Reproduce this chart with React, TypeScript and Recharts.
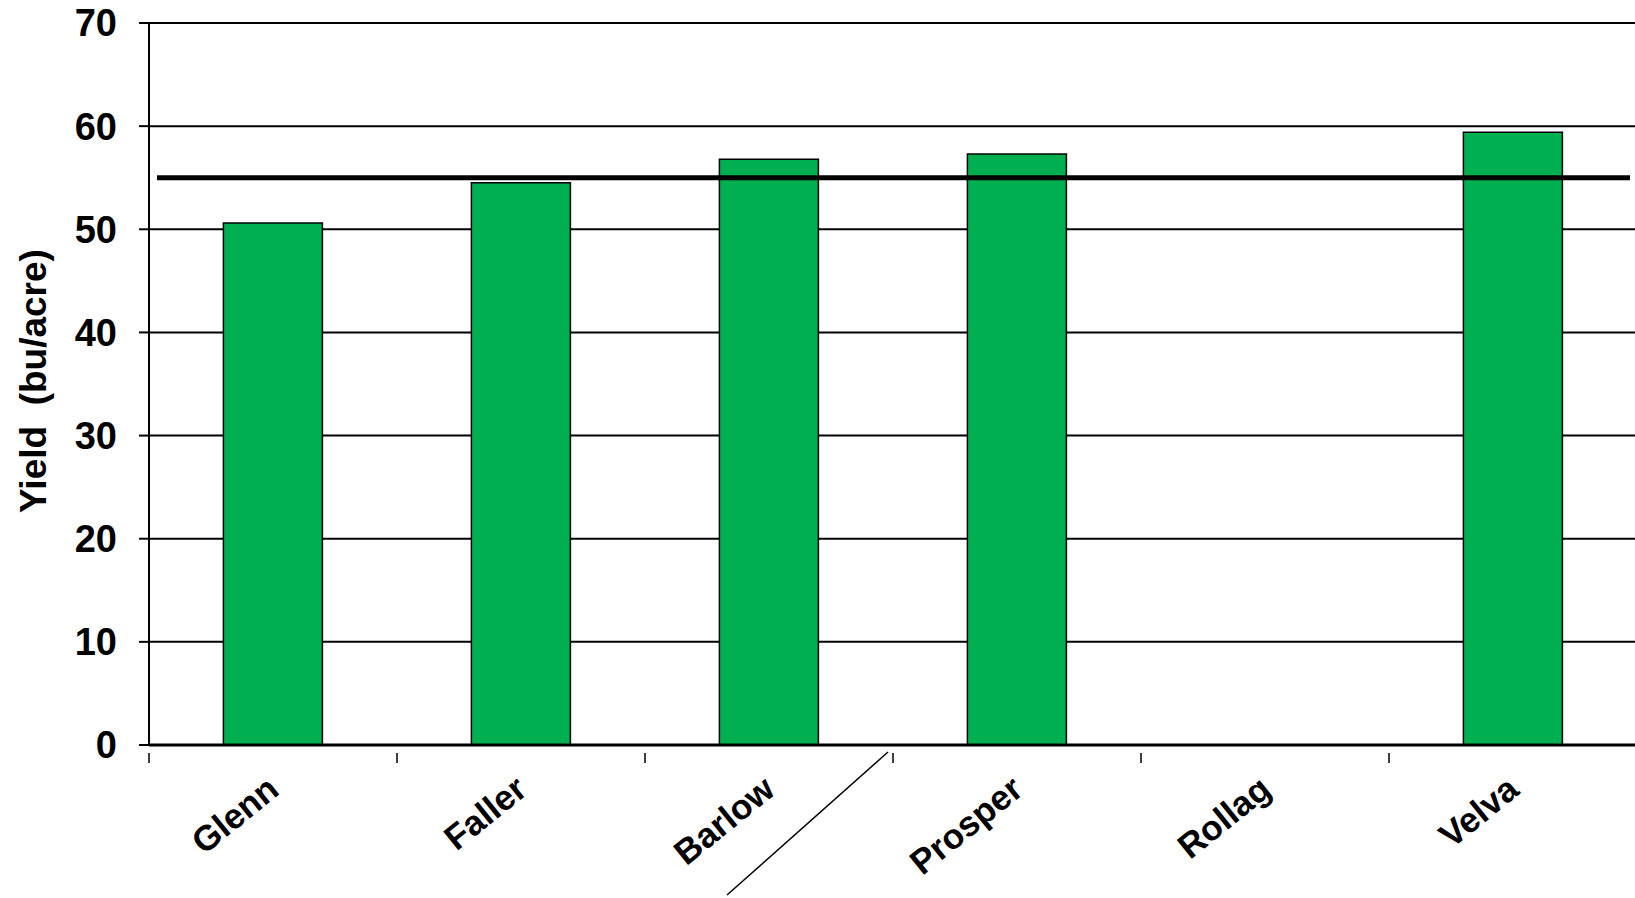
import React from "react"
import { BarChart, Bar, XAxis, YAxis, CartesianGrid, ReferenceLine } from "recharts"

// variety trial yields (bu/acre)
const categories = ["Glenn", "Faller", "Barlow", "Prosper", "Rollag", "Velva"]
const yields: (number | null)[] = [50.6, 54.5, 56.8, 57.3, null, 59.4]
const trialMean = 55
const yTicks = [0, 10, 20, 30, 40, 50, 60, 70]

const W = 1650
const H = 898
const MARGIN = { top: 23, right: 13, bottom: 0, left: 0 }
const Y_AXIS_W = 149
const FONT = "'Liberation Sans', Arial, Helvetica, sans-serif"

const data = categories.map((name, i) => ({ name, yield: yields[i] }))

const halfBand = (W - MARGIN.left - MARGIN.right - Y_AXIS_W) / categories.length / 2

function CategoryTick(props: any) {
  const { x, y, payload } = props
  const ax = x + 8
  const ay = y + 40
  return (
    <g>
      {/* excel-style ticks sit between categories */}
      <line x1={x - halfBand} y1={y} x2={x - halfBand} y2={y + 10} stroke="#000" strokeWidth={1.5} />
      <text
        x={ax}
        y={ay}
        textAnchor="end"
        transform={`rotate(-39, ${ax}, ${ay})`}
        fontFamily={FONT}
        fontWeight="bold"
        fontSize={35}
        fill="#000"
      >
        {payload.value}
      </text>
    </g>
  )
}

function MeanLine(props: any) {
  const { x1, x2, y1, y2 } = props
  return <line x1={x1 + 8} x2={x2 - 7} y1={y1} y2={y2} stroke="#000" strokeWidth={5} />
}

export default function App() {
  return (
    <div style={{ position: "absolute", left: 0, top: 0, width: 1635, height: 898, overflow: "hidden", background: "#fff" }}>
      <BarChart width={W} height={H} data={data} margin={MARGIN} barCategoryGap="30%">
        <CartesianGrid vertical={false} stroke="#000" strokeWidth={2} />
        <XAxis
          dataKey="name"
          height={153}
          axisLine={{ stroke: "#000", strokeWidth: 3 }}
          tickLine={false}
          tick={<CategoryTick />}
          interval={0}
        />
        <YAxis
          width={Y_AXIS_W}
          domain={[0, 70]}
          ticks={yTicks}
          interval={0}
          axisLine={{ stroke: "#000", strokeWidth: 2 }}
          tickLine={{ stroke: "#000", strokeWidth: 2 }}
          tickSize={10}
          tickMargin={22}
          tick={{ fontFamily: FONT, fontWeight: "bold", fontSize: 38, fill: "#000" }}
          label={{
            value: "Yield\u00a0\u00a0(bu/acre)",
            angle: -90,
            position: "insideLeft",
            content: () => (
              <text
                x={46}
                y={381}
                transform="rotate(-90, 46, 381)"
                textAnchor="middle"
                fontFamily={FONT}
                fontWeight="bold"
                fontSize={37}
                fill="#000"
              >
                {"Yield\u00a0\u00a0(bu/acre)"}
              </text>
            ),
          }}
        />
        <Bar dataKey="yield" fill="#00B050" stroke="#000" strokeWidth={1.5} isAnimationActive={false} />
        <ReferenceLine y={trialMean} shape={<MeanLine />} />
      </BarChart>
      <svg width={1635} height={898} style={{ position: "absolute", left: 0, top: 0, pointerEvents: "none" }}>
        <line x1={727} y1={895} x2={888} y2={752} stroke="#000" strokeWidth={1.5} />
      </svg>
    </div>
  )
}
